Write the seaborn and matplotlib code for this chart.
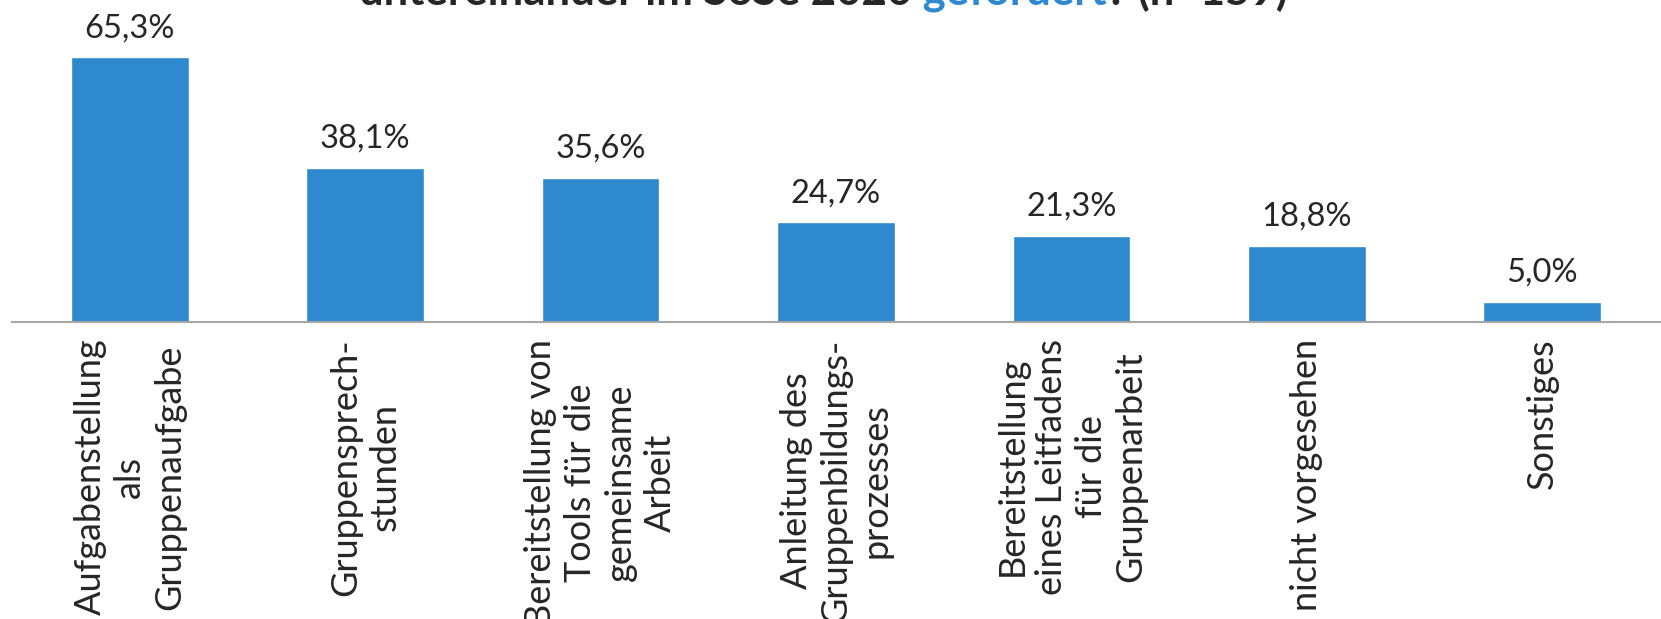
import matplotlib
matplotlib.use("Agg")
import numpy as np
import pandas as pd
import matplotlib.pyplot as plt
import seaborn as sns

categories = [
    "Aufgabenstellung\nals\nGruppenaufgabe",
    "Gruppensprech-\nstunden",
    "Bereitstellung von\nTools für die\ngemeinsame\nArbeit",
    "Anleitung des\nGruppenbildungs-\nprozesses",
    "Bereitstellung\neines Leitfadens\nfür die\nGruppenarbeit",
    "nicht vorgesehen",
    "Sonstiges",
]
values = [65.3, 38.1, 35.6, 24.7, 21.3, 18.8, 5.0]
title_parts = ["untereinander im SoSe 2020", " gefördert", "? (n=159)"]

blue = "#2E89CE"
grey = "#A6A6A6"

df = pd.DataFrame({"Kategorie": categories, "Anteil": values})
value_labels = [f"{v:.1f}%".replace(".", ",") for v in values]

sns.set_style("white")
plt.rcParams["font.family"] = ["Lato", "DejaVu Sans"]

W, H = 1661, 619
fig = plt.figure(figsize=(W / 100, H / 100), dpi=100)
ax = fig.add_axes([12 / W, 1 - 322 / H, 1648 / W, 320 / H])

sns.barplot(data=df, x="Kategorie", y="Anteil", color=blue, saturation=1,
            width=0.5, errorbar=None, ax=ax)

ax.set_xlim(-0.5, 6.5)
ax.set_ylim(0, 79)
ax.set_yticks([])
ax.set_xlabel("")
ax.set_ylabel("")
for s in ["left", "top", "right"]:
    ax.spines[s].set_visible(False)
ax.spines["bottom"].set_color(grey)
ax.spines["bottom"].set_linewidth(1.5)

# separators between categories
ax.set_xticks(np.arange(-0.5, 7, 1), minor=True)
ax.tick_params(axis="x", which="minor", length=11, width=1.5, color=grey)
ax.tick_params(axis="x", which="major", length=0, pad=12)
ax.set_xticks(range(len(categories)))
ax.set_xticklabels(categories, rotation=90, va="top", ha="center",
                   multialignment="center", fontsize=26, linespacing=1.25)

ax.bar_label(ax.containers[0], labels=value_labels, padding=10, fontsize=23.5)

# title, only the bottom line peeks into the picture
tsize = 31.5
t1 = fig.text(0, 0, title_parts[0], fontsize=tsize, fontweight="bold",
              va="baseline", transform=None)
t2 = fig.text(0, 0, title_parts[1], fontsize=tsize, fontweight="bold", color=blue,
              va="baseline", transform=None)
t3 = fig.text(0, 0, title_parts[2], fontsize=tsize, fontweight="bold",
              va="baseline", transform=None)
fig.canvas.draw()
r = fig.canvas.get_renderer()
w1 = t1.get_window_extent(r).width
w2 = t2.get_window_extent(r).width
w3 = t3.get_window_extent(r).width
x0 = 823 - (w1 + w2 + w3) / 2
y0 = H - 5
t1.set_position((x0, y0))
t2.set_position((x0 + w1, y0))
t3.set_position((x0 + w1 + w2, y0))

fig.savefig("out.png", dpi=100)
